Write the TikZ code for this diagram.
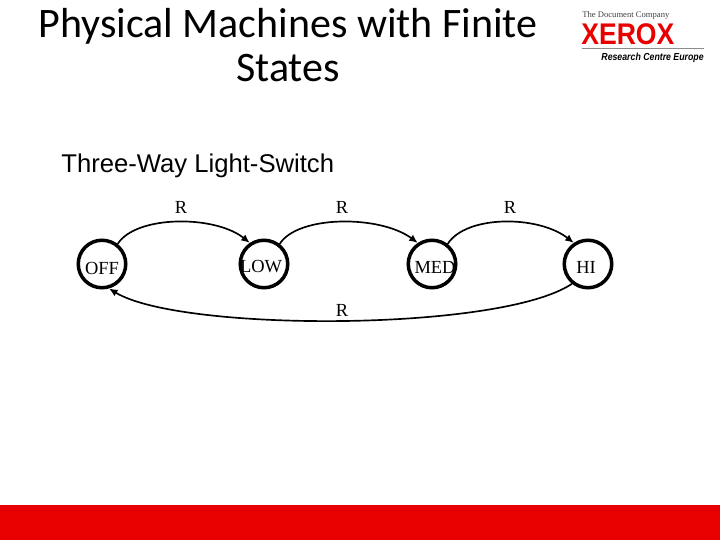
\documentclass[tikz,border=0pt]{standalone}
\usepackage{fontspec}
\setmainfont{Carlito}
\newfontfamily\armfont{Liberation Sans}
\newfontfamily\serfont{Liberation Serif}
\usetikzlibrary{arrows.meta}
\definecolor{xeroxred}{RGB}{232,0,0}
\tikzset{
  statearrow/.style={-{Latex[length=1.7mm,width=1.5mm]}, line width=0.95pt},
  statenode/.style={draw, circle, line width=2pt, minimum size=0.95cm, inner sep=0pt},
  statetext/.style={font=\serfont\fontsize{10.5}{12}\selectfont, inner sep=0pt},
  relabel/.style={font=\serfont\fontsize{10.5}{12}\selectfont, inner sep=0pt}
}
\begin{document}
\begin{tikzpicture}[x=0.02cm, y=-0.02cm]
      \useasboundingbox (0,0) rectangle (720,540);
      % title and heading
      \node[font=\fontsize{23.9}{25.5}\selectfont, align=center, inner sep=0pt] (title) at (288,45) {Physical Machines with Finite\\States};
      \node[font=\armfont\fontsize{14.6}{17}\selectfont, anchor=west, inner sep=0pt] (heading) at (61,166) {Three-Way Light-Switch};
      % logo
      \node[font=\serfont\fontsize{4.9}{5}\selectfont, anchor=west, inner sep=0pt, text=black!75] (logotop) at (582,15) {\textsc{The Document Company}};
      \node[font=\armfont\bfseries\fontsize{17}{18}\selectfont, anchor=west, inner sep=0pt, text=xeroxred, xscale=0.89] (logomain) at (581,34) {XEROX};
      \coordinate (rulea) at (582,48);
      \coordinate (ruleb) at (704,48);
      \draw[black!45, line width=0.3pt] (rulea) -- (ruleb);
      \node[font=\armfont\bfseries\itshape\fontsize{5.8}{7}\selectfont, anchor=east, inner sep=0pt, xscale=0.86] (logosub) at (704,58) {Research Centre Europe};
      % states
      \node[statenode] (off) at (102,264) {};
      \node[statenode] (low) at (264,264) {};
      \node[statenode] (med) at (432,264) {};
      \node[statenode] (hi) at (588,264) {};
      \node[statetext] (offtext) at (102,268) {OFF};
      \node[statetext] (lowtext) at (261,267) {LOW};
      \node[statetext] (medtext) at (435,267) {MED};
      \node[statetext] (hitext) at (586,267) {HI};
      % transitions
      \draw[statearrow] (off.52) .. controls (136,215) and (215,215) .. (low.124);
      \draw[statearrow] (low.52) .. controls (298,215) and (380,215) .. (med.124);
      \draw[statearrow] (med.52) .. controls (466,215) and (538,215) .. (hi.124);
      \draw[statearrow] (hi.231) .. controls (500,332) and (180,332) .. (off.286);
      \node[relabel] (r1) at (181,207) {R};
      \node[relabel] (r2) at (342,207) {R};
      \node[relabel] (r3) at (510,207) {R};
      \node[relabel] (r4) at (342,310) {R};
      % bottom band
      \fill[xeroxred] (0,505) rectangle (720,540);
    \end{tikzpicture}
\end{document}
